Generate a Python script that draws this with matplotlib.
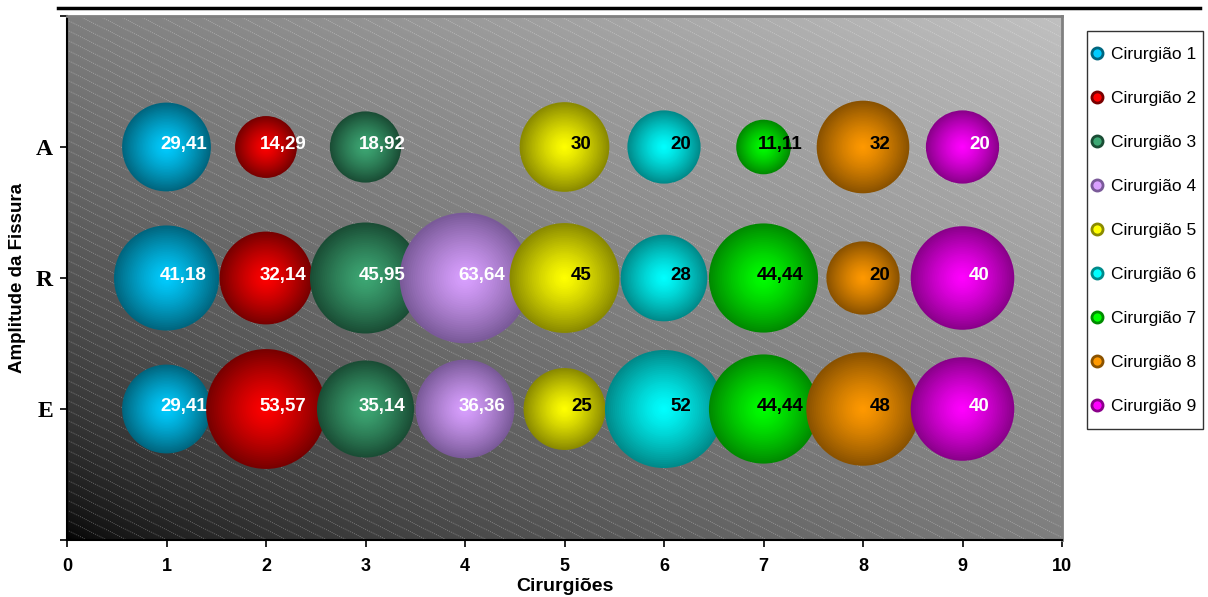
import numpy as np
import matplotlib
matplotlib.use("Agg")
import matplotlib.pyplot as plt
from matplotlib.colors import to_rgb
from matplotlib.lines import Line2D
from matplotlib.patches import Rectangle
from matplotlib.collections import LineCollection

plt.rcParams['font.family'] = ['Liberation Sans', 'DejaVu Sans']

# surgeons on x, fissure amplitude classes on y (E=1, R=2, A=3)
surgeons = [1, 2, 3, 4, 5, 6, 7, 8, 9]
series_names = ["Cirurgião %d" % s for s in surgeons]
level_labels = ['E', 'R', 'A']
level_pos = [1, 2, 3]

# percentages per class (nan = no bubble)
pct_E = [29.41, 53.57, 35.14, 36.36, 25, 52, 44.44, 48, 40]
pct_R = [41.18, 32.14, 45.95, 63.64, 45, 28, 44.44, 20, 40]
pct_A = [29.41, 14.29, 18.92, np.nan, 30, 20, 11.11, 32, 20]

centre_colors = ['#00CCFF', '#FF0000', '#3DA874', '#D9A0FF', '#FFFF00',
                 '#00FFFF', '#00FF00', '#FF9900', '#FF00FF']
edge_colors = ['#00667F', '#780000', '#1A4D35', '#7A5A99', '#8A8A00',
               '#008A8A', '#008A00', '#8A5200', '#8A008A']
label_colors = ['white', 'white', 'white', 'white', 'black',
                'black', 'black', 'black', 'white']

SIZE = 139.0   # points^2 per percent
N_LAYERS = 30

fig = plt.figure(figsize=(12.08, 5.97), dpi=100)
ax = fig.add_axes([67 / 1208, 57 / 597, 995 / 1208, 524 / 597])

# background gradient (black lower-left -> light grey upper-right)
u = np.linspace(0, 1, 400)
v = np.linspace(0, 1, 300)
U, V = np.meshgrid(u, v)
grad = 0.75 * ((U + V) / 2) ** 0.6
ax.imshow(grad, cmap='gray', vmin=0, vmax=1, extent=(0, 1, 0, 1), origin='lower',
          transform=ax.transAxes, aspect='auto', zorder=0, interpolation='bilinear')

# thin diagonal dotted texture
k = 0.5 * 995 / 524
segs = [[(0, c), (1, c - k)] for c in np.arange(0, 1 + k, 10 / 524)]
ax.add_collection(LineCollection(segs, colors='white', linewidths=0.5,
                                 linestyles=(0, (1.5, 1.5)), alpha=0.4,
                                 transform=ax.transAxes, zorder=1), autolim=False)

# bubbles, drawn as stacked discs to fake the 3D shading
for i in range(len(surgeons)):
    xs, ys, vs = [], [], []
    for y, row in zip(level_pos, [pct_E, pct_R, pct_A]):
        if not np.isnan(row[i]):
            xs.append(surgeons[i])
            ys.append(y)
            vs.append(row[i])
    vs = np.array(vs)
    c0 = np.array(to_rgb(edge_colors[i]))
    c1 = np.array(to_rgb(centre_colors[i]))
    for layer in range(N_LAYERS):
        r = 1 - layer / N_LAYERS
        mix = 1 - r ** 1.3
        col = c0 + (c1 - c0) * mix
        ax.scatter(xs, ys, s=SIZE * vs * r ** 2, color=[col], edgecolors='none',
                   zorder=2 + i + 0.9 * layer / N_LAYERS)
    for x, y, val in zip(xs, ys, vs):
        txt = ("%g" % val).replace('.', ',')
        ax.text(x + 0.17, y + 0.02, txt, ha='center', va='center', fontsize=13.5,
                fontweight='bold', color=label_colors[i], zorder=20)

ax.set_xlim(0, 10)
ax.set_ylim(0, 4)

ax.set_xticks(range(11))
ax.set_xticklabels([str(t) for t in range(11)], fontsize=13, fontweight='bold')
ax.set_yticks([0] + level_pos + [4])
ax.set_yticklabels([''] + level_labels + [''], fontsize=17, fontweight='bold',
                   family=['Liberation Serif', 'DejaVu Serif'])
ax.tick_params(axis='x', direction='out', length=5, width=1.2, pad=8)
ax.tick_params(axis='y', direction='out', length=5, width=1.2, pad=5)

ax.set_xlabel('Cirurgiões', fontsize=14, fontweight='bold', labelpad=2)
ax.set_ylabel('Amplitude da Fissura', fontsize=13.5, fontweight='bold', labelpad=7)

for side in ['top', 'right']:
    ax.spines[side].set_color('#808080')
    ax.spines[side].set_linewidth(2)
for side in ['left', 'bottom']:
    ax.spines[side].set_color('black')
    ax.spines[side].set_linewidth(1.5)

# legend: box drawn separately so it can hug the entries horizontally
fig.add_artist(Rectangle((1087 / 1208, 1 - 429 / 597), 116 / 1208, 398 / 597,
                         transform=fig.transFigure, facecolor='white',
                         edgecolor='#333333', lw=1.0, zorder=0))
handles = [Line2D([], [], marker='o', ls='', markersize=8,
                  markerfacecolor=centre_colors[i], markeredgecolor=edge_colors[i],
                  markeredgewidth=2) for i in range(len(surgeons))]
leg = fig.legend(handles, series_names, loc='upper left',
                 bbox_to_anchor=(1091 / 1208, 1 - 47 / 597), frameon=False,
                 fontsize=12.5, labelspacing=1.66, handlelength=0.7,
                 handletextpad=0.45, borderpad=0, borderaxespad=0)

# rule at the top of the page
fig.add_artist(Line2D([58 / 1208, 1200 / 1208], [1 - 8 / 597, 1 - 8 / 597],
                      color='black', lw=2.5))

fig.savefig('out.png', dpi=100)
